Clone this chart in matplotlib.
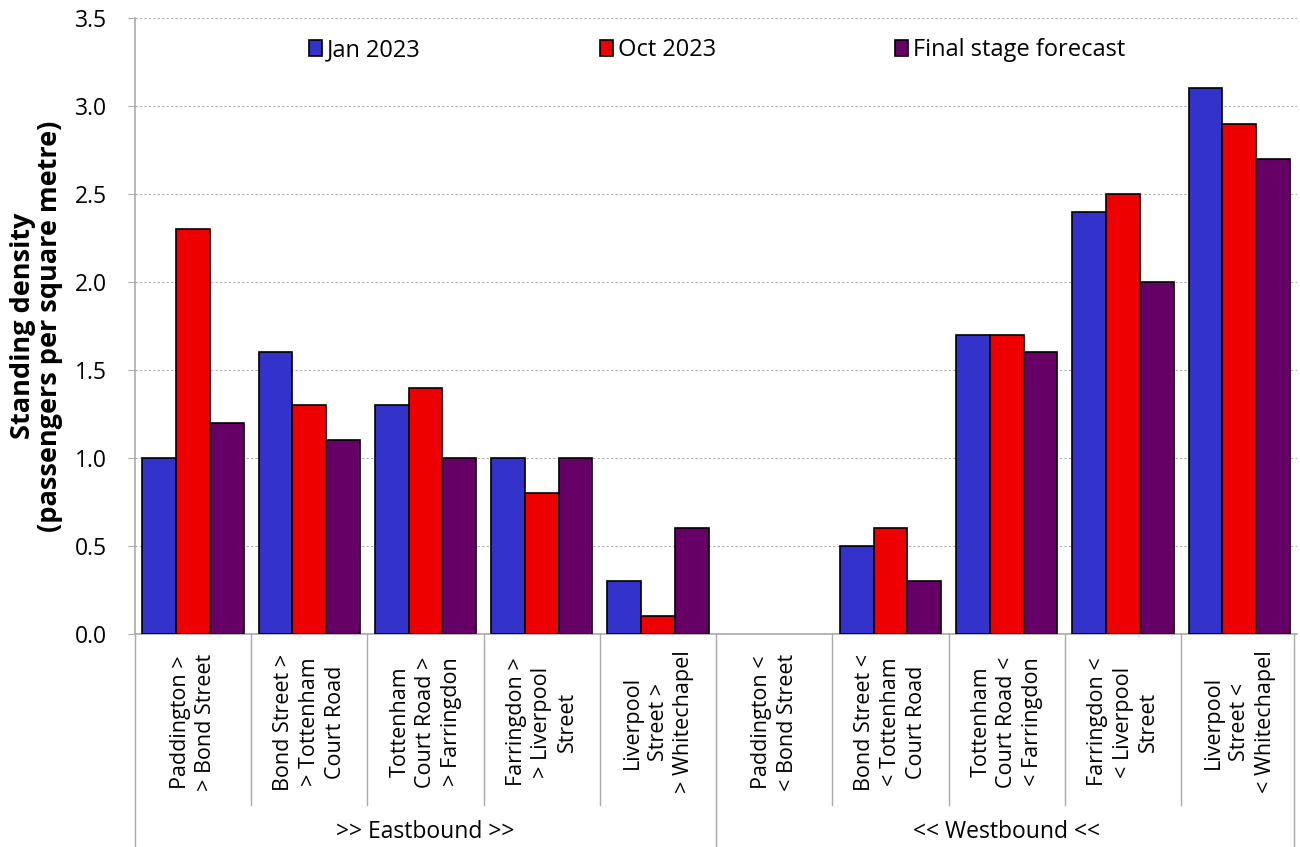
import numpy as np
import matplotlib
matplotlib.use("Agg")
import matplotlib.pyplot as plt
import matplotlib.transforms as mtransforms

plt.rcParams['font.family'] = ['Open Sans', 'DejaVu Sans']

sections = [
    "Paddington >\n> Bond Street",
    "Bond Street >\n> Tottenham\nCourt Road",
    "Tottenham\nCourt Road >\n> Farringdon",
    "Farringdon >\n> Liverpool\nStreet",
    "Liverpool\nStreet >\n> Whitechapel",
    "Paddington <\n< Bond Street",
    "Bond Street <\n< Tottenham\nCourt Road",
    "Tottenham\nCourt Road <\n< Farringdon",
    "Farringdon <\n< Liverpool\nStreet",
    "Liverpool\nStreet <\n< Whitechapel",
]
directions = [">> Eastbound >>", "<< Westbound <<"]

jan_2023 = [1.0, 1.6, 1.3, 1.0, 0.3, np.nan, 0.5, 1.7, 2.4, 3.1]
oct_2023 = [2.3, 1.3, 1.4, 0.8, 0.1, np.nan, 0.6, 1.7, 2.5, 2.9]
final_stage = [1.2, 1.1, 1.0, 1.0, 0.6, np.nan, 0.3, 1.6, 2.0, 2.7]

series = [("Jan 2023", jan_2023, "#3333CC"),
          ("Oct 2023", oct_2023, "#EE0000"),
          ("Final stage forecast", final_stage, "#660066")]

fig = plt.figure(figsize=(13, 8.47), dpi=100)
ax = fig.add_axes([0.1038, 0.2515, 0.8942, 0.7272])

x = np.arange(len(sections))
w = 0.29
for i, (name, vals, col) in enumerate(series):
    ax.bar(x + (i - 1) * w, vals, width=w, color=col, edgecolor="black",
           linewidth=1.2, label=name, zorder=3)

ax.set_xlim(-0.5, len(sections) - 0.5)
ax.set_ylim(0, 3.5)
ax.set_yticks(np.arange(0, 3.51, 0.5))
ax.set_yticklabels([f"{v:.1f}" for v in np.arange(0, 3.51, 0.5)], fontsize=16.5)
ax.yaxis.grid(True, linestyle=(0, (2, 2)), color="#aaaaaa", linewidth=0.8, zorder=0)
ax.set_xticks([])
ax.tick_params(axis="y", length=5, color="#aaaaaa", pad=15)

for s in ["top", "right"]:
    ax.spines[s].set_visible(False)
for s in ["left", "bottom"]:
    ax.spines[s].set_color("#aaaaaa")
    ax.spines[s].set_linewidth(1.2)

ax.set_ylabel("Standing density\n(passengers per square metre)", fontsize=19.5,
              fontweight="bold", linespacing=1.05)
ax.yaxis.set_label_coords(-0.062, 0.5)

# category labels and separators below the axis
trans = mtransforms.blended_transform_factory(ax.transData, ax.transAxes)
for xi, lab in zip(x, sections):
    ax.text(xi, -0.143, lab, transform=trans, rotation=90, ha="center",
            va="center", multialignment="center", fontsize=15.5,
            linespacing=1.3)
for b in np.arange(0.5, len(sections) - 1, 1.0):
    if b == 4.5:
        continue
    ax.plot([b, b], [0, -0.2776], transform=trans, color="#aaaaaa",
            linewidth=1, clip_on=False)
for b in [-0.5, 4.5, 9.47]:
    ax.plot([b, b], [0, -0.36], transform=trans, color="#aaaaaa",
            linewidth=1, clip_on=False)
for gi, lab in enumerate(directions):
    ax.text(gi * 5 + 2, -0.321, lab, transform=trans, ha="center",
            va="center", fontsize=16.5)

ax.legend(loc="center", bbox_to_anchor=(0.501, 0.948), ncol=3, frameon=False,
          fontsize=17, handlelength=0.55, handleheight=0.7, handletextpad=0.2,
          columnspacing=7.6)

fig.savefig("out.png", dpi=100)
